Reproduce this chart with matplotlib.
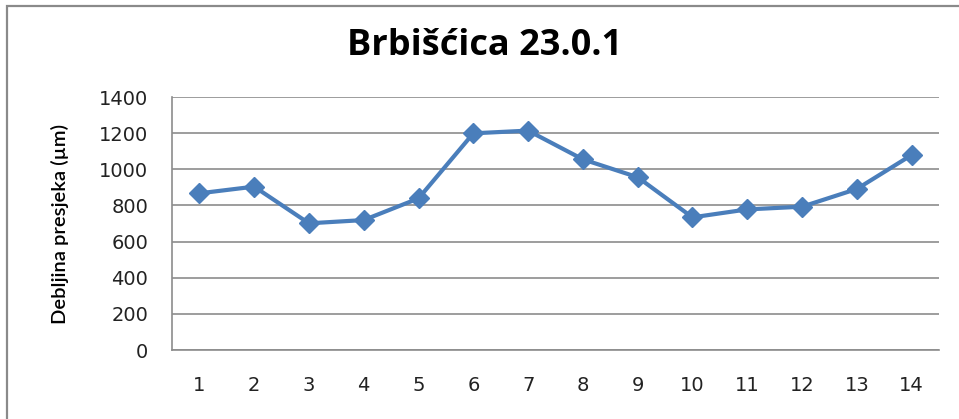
import matplotlib
matplotlib.use("Agg")
import matplotlib.pyplot as plt
from matplotlib.patches import Rectangle

# measurement points along the section and their thickness (µm)
points = [1, 2, 3, 4, 5, 6, 7, 8, 9, 10, 11, 12, 13, 14]
thickness = [867, 904, 701, 719, 839, 1199, 1214, 1055, 956, 734, 778, 793, 891, 1079]
y_ticks = [0, 200, 400, 600, 800, 1000, 1200, 1400]

TITLE = "Brbišćica 23.0.1"
Y_LABEL = "Debljina presjeka (µm)"
LINE_COLOR = "#4a7ebb"
GRID_COLOR = "#8c8c8c"

plt.rcParams['font.family'] = ['DejaVu Sans']

W, H = 959, 419
fig = plt.figure(figsize=(W / 100, H / 100), dpi=100)
fig.patch.set_facecolor("white")

# outer chart frame (runs off the right and bottom edge)
fig.patches.append(Rectangle((7 / W, -0.2), 1.2, 1.2 - 6 / H,
                             transform=fig.transFigure, fill=False,
                             edgecolor="#8a8a8a", linewidth=1.6, clip_on=False))

ax = fig.add_axes([172 / W, 1 - 350 / H, (939 - 172) / W, (350 - 97) / H])

ax.plot(points, thickness, color=LINE_COLOR, linewidth=3,
        marker="D", markersize=10, markerfacecolor=LINE_COLOR,
        markeredgecolor=LINE_COLOR)

ax.set_xlim(0.5, 14.5)
ax.set_ylim(0, 1400)
ax.set_yticks(y_ticks)
ax.set_xticks(points)
ax.set_xticklabels([str(p) for p in points])

ax.yaxis.grid(True, color=GRID_COLOR, linewidth=1.2)
ax.set_axisbelow(True)
ax.tick_params(axis="both", length=0, labelsize=14, colors="#222222")
ax.tick_params(axis="y", pad=17)
ax.tick_params(axis="x", pad=19)

for side in ("top", "right"):
    ax.spines[side].set_visible(False)
for side in ("left", "bottom"):
    ax.spines[side].set_color(GRID_COLOR)
    ax.spines[side].set_linewidth(1.2)

ax.set_ylabel(Y_LABEL, fontsize=14.5, fontweight="semibold", labelpad=22,
              family=["Lato", "DejaVu Sans"])
fig.text(485 / W, 1 - 46 / H, TITLE, fontsize=26, fontweight="bold",
         ha="center", va="center", family=["Open Sans", "DejaVu Sans"])

fig.savefig("out.png", dpi=100)
